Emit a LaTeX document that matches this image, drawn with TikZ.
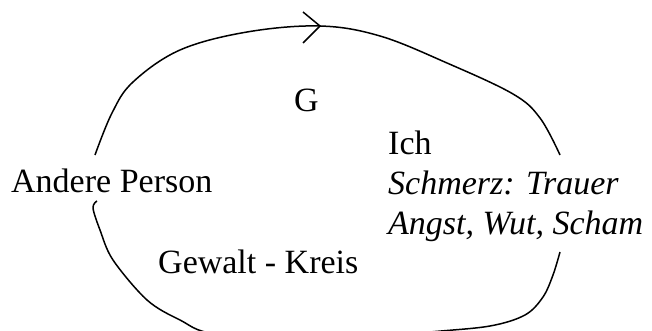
\documentclass[tikz,border=0pt]{standalone}
\usepackage{fontspec}
\setmainfont{Liberation Serif}
\begin{document}
\begin{tikzpicture}[x=1pt,y=-1pt,
  lbl/.style={anchor=base west, inner sep=0pt, font=\fontsize{34}{40}\selectfont},
  curve/.style={line width=1.5pt, line join=round}]
\useasboundingbox (0,0) rectangle (652,331);
\clip (0,0) rectangle (652,331);
% labels
\node[lbl] (g) at (294,112) {G};
\node[lbl] (ich) at (388,154) {Ich};
\node[lbl] (schmerz) at (388,194) {\itshape Schmerz: Trauer};
\node[lbl] (angst) at (388,234) {\itshape Angst, Wut, Scham};
\node[lbl] (andere) at (11,192) {Andere Person};
\node[lbl] (gewalt) at (158,273) {Gewalt - Kreis};
% top arc
\coordinate (tip) at (320,26);
\draw[curve] plot[smooth, tension=0.6] coordinates {(95,155) (112,113) (133,82) (180,50) (247,32) (320,26) (380,36) (447,63) (513,94) (540,118) (560,155)};
\draw[curve] (303,12) -- (tip) -- (303,43);
% bottom arc
\draw[curve] plot[smooth, tension=0.55] coordinates {(97,201) (93,208) (100,230) (113,260) (147,300) (180,320) (215,334) (320,342) (430,332) (490,326) (525,315) (543,297) (553,275) (560,252)};
\end{tikzpicture}
\end{document}
